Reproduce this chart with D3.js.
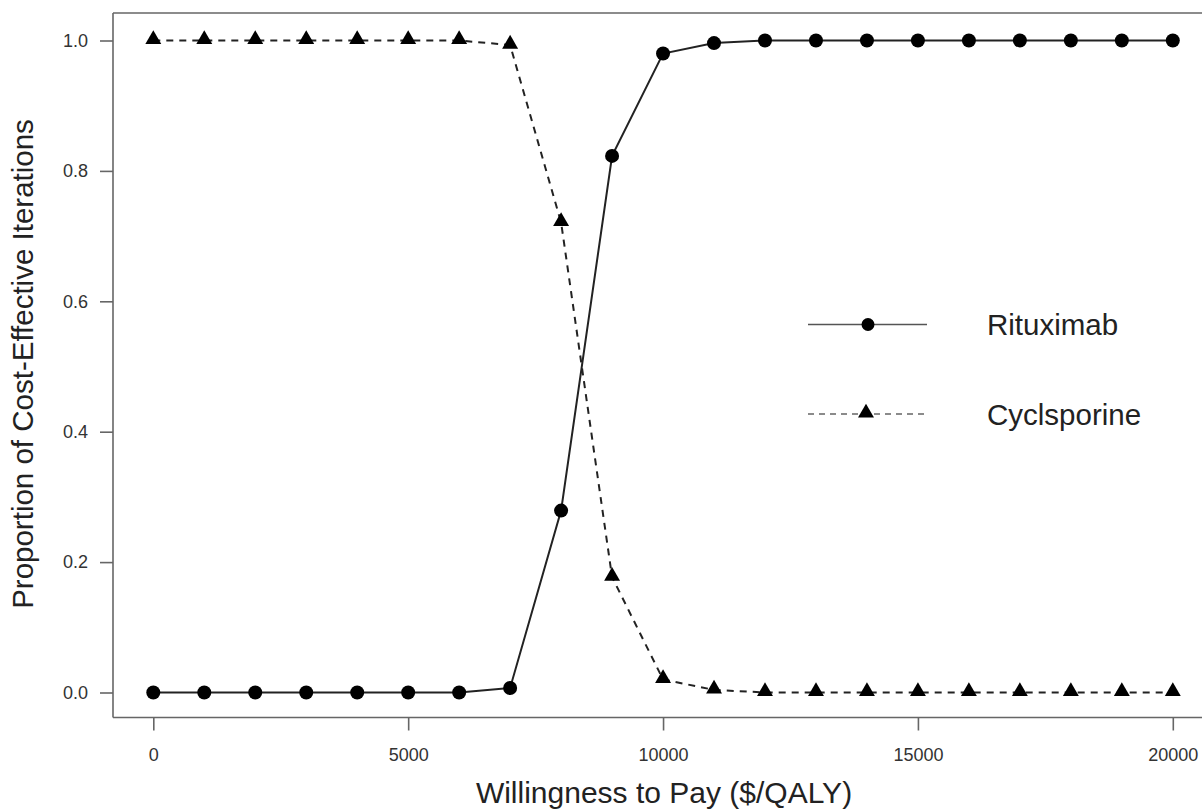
<!DOCTYPE html>
<html><head><meta charset="utf-8">
<script src="https://cdn.jsdelivr.net/npm/d3@7/dist/d3.min.js"></script>
<style>body{margin:0;background:#fff;} text{font-family:"Liberation Sans",Arial,sans-serif;}</style>
</head><body><svg id="c" width="1202" height="811"></svg>
<script>
const wtp = [0,1000,2000,3000,4000,5000,6000,7000,8000,9000,10000,11000,12000,13000,14000,15000,16000,17000,18000,19000,20000];
const rituximab = [0,0,0,0,0,0,0,0.007,0.279,0.823,0.980,0.996,1,1,1,1,1,1,1,1,1];
const cyclosporine = [1,1,1,1,1,1,1,0.993,0.721,0.177,0.020,0.004,0,0,0,0,0,0,0,0,0];
const xTicks = [0,5000,10000,15000,20000];
const yTicks = [0,0.2,0.4,0.6,0.8,1.0];
const seriesNames = ["Rituximab","Cyclsporine"];

const svg = d3.select("#c");
const x = d3.scaleLinear().domain([0,20000]).range([153.3,1172.8]);
const y = d3.scaleLinear().domain([0,1]).range([692.5,40.5]);
const L=113, T=13, B=717.5, R=1202;
const axisCol="#666";

// frame
svg.append("line").attr("x1",L).attr("x2",R).attr("y1",T).attr("y2",T).attr("stroke",axisCol).attr("stroke-width",1.6);
svg.append("line").attr("x1",L).attr("x2",R).attr("y1",B).attr("y2",B).attr("stroke",axisCol).attr("stroke-width",1.6);
svg.append("line").attr("x1",L).attr("x2",L).attr("y1",T).attr("y2",B).attr("stroke",axisCol).attr("stroke-width",1.6);

// axes
const xAxis = d3.axisBottom(x).tickValues(xTicks).tickSize(13).tickPadding(18).tickFormat(d3.format("d"));
const gx = svg.append("g").attr("transform",`translate(0,${B})`).call(xAxis);
gx.attr("font-size",18).attr("font-family","Liberation Sans, Arial, sans-serif");
gx.select(".domain").remove();
gx.selectAll("line").attr("stroke",axisCol).attr("stroke-width",1.6);
gx.selectAll("text").attr("fill","#333");

const yAxis = d3.axisLeft(y).tickValues(yTicks).tickSize(13).tickPadding(12).tickFormat(d3.format(".1f"));
const gy = svg.append("g").attr("transform",`translate(${L},0)`).call(yAxis);
gy.attr("font-size",18).attr("font-family","Liberation Sans, Arial, sans-serif");
gy.select(".domain").remove();
gy.selectAll("line").attr("stroke",axisCol).attr("stroke-width",1.6);
gy.selectAll("text").attr("fill","#333");

// labels
svg.append("text").attr("x",664).attr("y",803).attr("text-anchor","middle").attr("font-size",30).attr("fill","#222").text("Willingness to Pay ($/QALY)");
svg.append("text").attr("transform","translate(33,364) rotate(-90)").attr("text-anchor","middle").attr("font-size",29.5).attr("fill","#222").text("Proportion of Cost-Effective Iterations");

const line = d3.line().x((d,i)=>x(wtp[i])).y(d=>y(d));
svg.append("path").datum(rituximab).attr("d",line).attr("fill","none").attr("stroke","#222").attr("stroke-width",2);
svg.append("path").datum(cyclosporine).attr("d",line).attr("fill","none").attr("stroke","#222").attr("stroke-width",2).attr("stroke-dasharray","7,6");

const tri = d3.symbol().type(d3.symbolTriangle).size(110);
svg.append("g").selectAll("circle").data(rituximab).join("circle")
  .attr("cx",(d,i)=>x(wtp[i])).attr("cy",d=>y(d)).attr("r",7).attr("fill","#000");
svg.append("g").selectAll("path").data(cyclosporine).join("path")
  .attr("d",tri).attr("transform",(d,i)=>`translate(${x(wtp[i])},${y(d)-1})`).attr("fill","#000");

// legend
const lg = svg.append("g");
lg.append("line").attr("x1",808).attr("x2",927).attr("y1",324.5).attr("y2",324.5).attr("stroke","#555").attr("stroke-width",1.5);
lg.append("circle").attr("cx",868).attr("cy",324.5).attr("r",6.5).attr("fill","#000");
lg.append("text").attr("x",987).attr("y",335).attr("font-size",29.5).attr("fill","#222").text(seriesNames[0]);
lg.append("line").attr("x1",808).attr("x2",925).attr("y1",414).attr("y2",414).attr("stroke","#666").attr("stroke-width",1.5).attr("stroke-dasharray","6,5");
lg.append("path").attr("d",tri).attr("transform","translate(866,413)").attr("fill","#000");
lg.append("text").attr("x",987).attr("y",425).attr("font-size",29.5).attr("fill","#222").text(seriesNames[1]);
</script></body></html>
